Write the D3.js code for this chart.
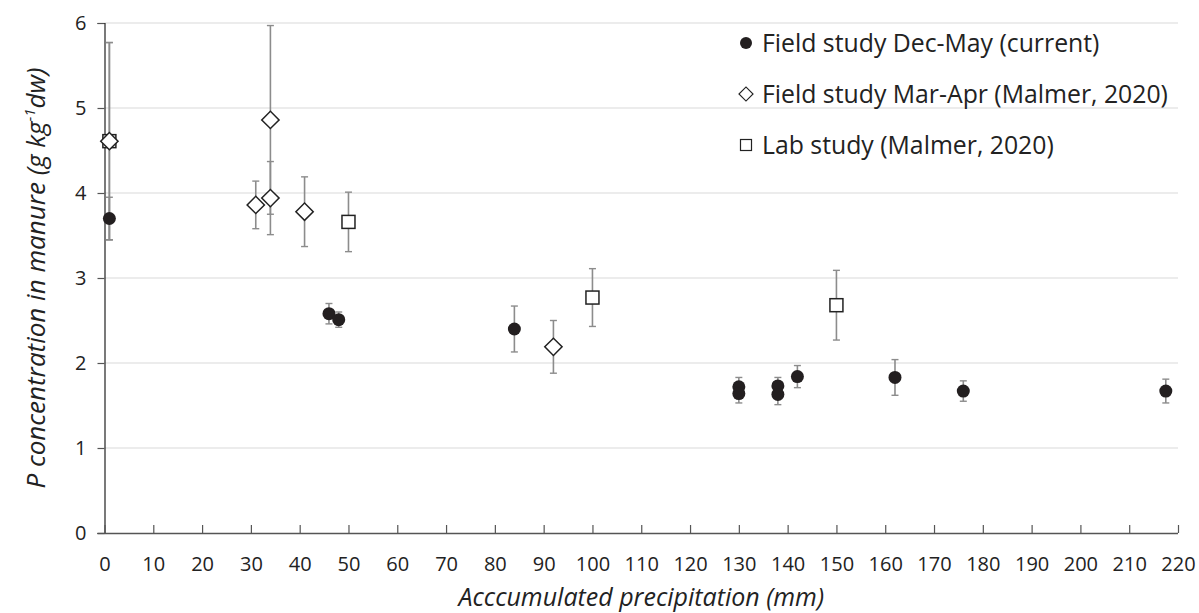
<!DOCTYPE html>
<html>
<head>
<meta charset="utf-8">
<script src="https://cdn.jsdelivr.net/npm/d3@7"></script>
<style>
  body { margin: 0; background: #fff; }
  text { font-family: "Open Sans", Lato, sans-serif; fill: #222; }
</style>
</head>
<body>
<svg id="chart" width="1199" height="613"></svg>
<script>
// Field study Dec-May (current)
var fieldX   = [1,    46,   48,   84,   130,  130,  138,  138,  142,  162,  176,  217.5];
var fieldY   = [3.7,  2.58, 2.51, 2.4,  1.72, 1.64, 1.73, 1.63, 1.84, 1.83, 1.67, 1.67];
var fieldErr = [0.25, 0.12, 0.09, 0.27, 0.11, 0.11, 0.1,  0.12, 0.13, 0.21, 0.12, 0.14];

// Field study Mar-Apr (Malmer, 2020)
var marX   = [1,    31,   34,   34,   41,   92];
var marY   = [4.61, 3.86, 4.86, 3.94, 3.78, 2.19];
var marErr = [1.16, 0.28, 1.11, 0.43, 0.41, 0.31];

// Lab study (Malmer, 2020)
var labX   = [1,    50,   100,  150];
var labY   = [4.61, 3.66, 2.77, 2.68];
var labErr = [1.16, 0.35, 0.34, 0.41];

var xTicks = d3.range(0, 221, 10);
var yTicks = [0, 1, 2, 3, 4, 5, 6];
var legendKeys = ["Field study Dec-May (current)", "Field study Mar-Apr (Malmer, 2020)", "Lab study (Malmer, 2020)"];

var svg = d3.select("#chart");
var margin = { top: 23, right: 21, bottom: 80, left: 104.5 };
var width = 1199 - margin.left - margin.right;
var height = 613 - margin.top - margin.bottom;
var g = svg.append("g").attr("transform", "translate(" + margin.left + "," + margin.top + ")");

var x = d3.scaleLinear().domain([0, 220]).range([0, width]);
var y = d3.scaleLinear().domain([0, 6]).range([height, 0]);

// gridlines
g.selectAll(".grid").data(yTicks.slice(1)).enter().append("line")
    .attr("x1", 0).attr("x2", width)
    .attr("y1", function (d) { return y(d); }).attr("y2", function (d) { return y(d); })
    .attr("stroke", "#d9d9d9").attr("stroke-width", 1.2);

// y axis
var yAxis = g.append("g").call(d3.axisLeft(y).tickValues(yTicks).tickSize(7).tickPadding(11).tickFormat(d3.format("d")));
yAxis.select(".domain").attr("stroke", "#222").attr("stroke-width", 1.2);
yAxis.selectAll(".tick line").attr("stroke", "#555").attr("stroke-width", 1.2);
yAxis.selectAll("text").style("font-size", "20px").attr("fill", "#222");

// x axis, ticks pointing up
var xAxis = g.append("g").attr("transform", "translate(0," + height + ")")
    .call(d3.axisBottom(x).tickValues(xTicks).tickSizeInner(-8).tickSizeOuter(0).tickPadding(24));
xAxis.select(".domain").attr("stroke", "#555").attr("stroke-width", 1.4).attr("d", "M" + (-7) + ",0.5H" + width);
xAxis.selectAll(".tick line").attr("stroke", "#555").attr("stroke-width", 1.2);
xAxis.selectAll("text").style("font-size", "20px").attr("fill", "#222");

// axis titles
svg.append("text").attr("x", margin.left + width / 2).attr("y", 606)
    .attr("text-anchor", "middle").style("font-size", "25px").style("font-style", "italic")
    .text("Acccumulated precipitation (mm)");

var yt = svg.append("text").attr("transform", "translate(45," + (margin.top + height / 2) + ") rotate(-90)")
    .attr("text-anchor", "middle").style("font-size", "26px").style("font-style", "italic");
yt.append("tspan").text("P concentration in manure (g kg");
yt.append("tspan").attr("baseline-shift", "super").style("font-size", "15px").text("-1");
yt.append("tspan").text("dw)");

function errorBars(xs, ys, es) {
    var eb = g.append("g").selectAll("g").data(xs).enter().append("g");
    eb.append("line")
        .attr("x1", function (d) { return x(d); }).attr("x2", function (d) { return x(d); })
        .attr("y1", function (d, i) { return y(ys[i] + es[i]); })
        .attr("y2", function (d, i) { return y(ys[i] - es[i]); })
        .attr("stroke", "#8c8c8c").attr("stroke-width", 1.6);
    [1, -1].forEach(function (s) {
        eb.append("line")
            .attr("x1", function (d) { return x(d) - 3.5; }).attr("x2", function (d) { return x(d) + 3.5; })
            .attr("y1", function (d, i) { return y(ys[i] + s * es[i]); })
            .attr("y2", function (d, i) { return y(ys[i] + s * es[i]); })
            .attr("stroke", "#8c8c8c").attr("stroke-width", 1.4);
    });
}

errorBars(labX, labY, labErr);
errorBars(marX, marY, marErr);
errorBars(fieldX, fieldY, fieldErr);

var diamond = d3.symbol().type(d3.symbolSquare).size(150);

// lab squares
g.selectAll(".lab").data(labX).enter().append("rect")
    .attr("x", function (d) { return x(d) - 6.5; })
    .attr("y", function (d, i) { return y(labY[i]) - 6.5; })
    .attr("width", 13).attr("height", 13)
    .attr("fill", "#fff").attr("stroke", "#222").attr("stroke-width", 1.5);

// mar-apr diamonds
g.selectAll(".mar").data(marX).enter().append("path")
    .attr("d", diamond)
    .attr("transform", function (d, i) { return "translate(" + x(d) + "," + y(marY[i]) + ") rotate(45)"; })
    .attr("fill", "#fff").attr("stroke", "#222").attr("stroke-width", 1.5);

// field circles
g.selectAll(".field").data(fieldX).enter().append("circle")
    .attr("cx", function (d) { return x(d); })
    .attr("cy", function (d, i) { return y(fieldY[i]); })
    .attr("r", 6.5).attr("fill", "#231f20");

// legend
var lg = svg.append("g").attr("transform", "translate(746,43)");
var items = lg.selectAll("g").data(legendKeys).enter().append("g")
    .attr("transform", function (d, i) { return "translate(0," + (i * 51) + ")"; });
items.append("text").attr("x", 16).attr("y", 8.5).style("font-size", "24.8px").text(function (d) { return d; });
items.filter(function (d, i) { return i === 0; }).append("circle").attr("r", 6).attr("fill", "#231f20");
items.filter(function (d, i) { return i === 1; }).append("path")
    .attr("d", d3.symbol().type(d3.symbolSquare).size(98)).attr("transform", "rotate(45)")
    .attr("fill", "#fff").attr("stroke", "#222").attr("stroke-width", 1.2);
items.filter(function (d, i) { return i === 2; }).append("rect")
    .attr("x", -5.5).attr("y", -5.5).attr("width", 11).attr("height", 11)
    .attr("fill", "#fff").attr("stroke", "#222").attr("stroke-width", 1.2);
</script>
</body>
</html>
